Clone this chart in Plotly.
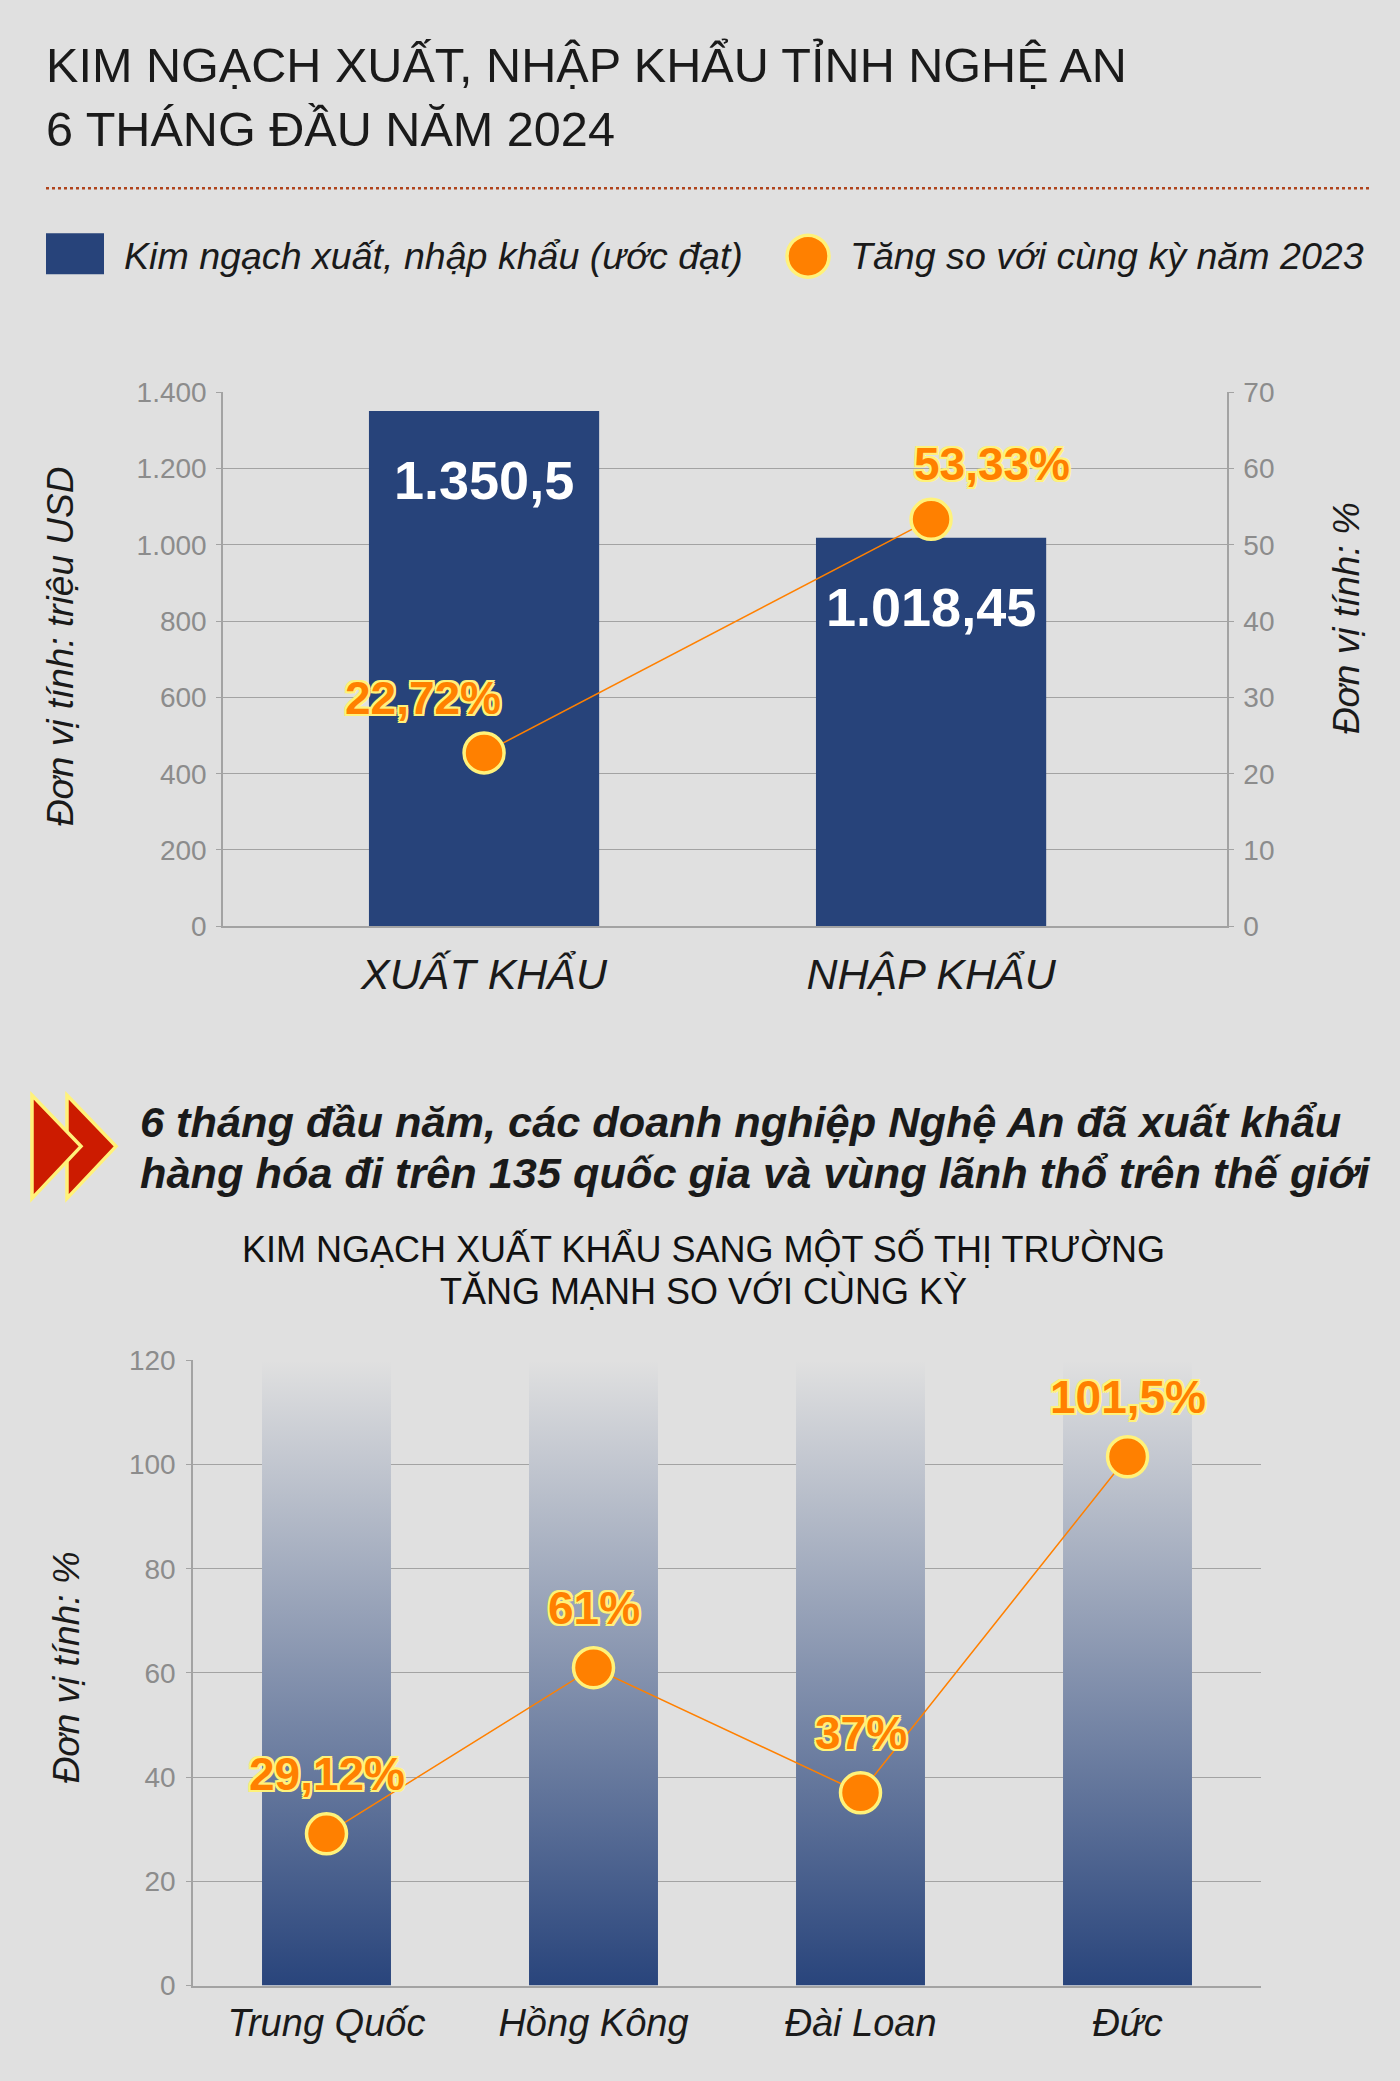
import plotly.graph_objects as go

# chart 1: export / import value (million USD) and growth (%)
trade_categories = ["XUẤT KHẨU", "NHẬP KHẨU"]
trade_values = [1350.5, 1018.45]
trade_growth = [22.72, 53.33]

# chart 2: export growth to some markets (%)
market_names = ["Trung Quốc", "Hồng Kông", "Đài Loan", "Đức"]
market_growth = [29.12, 61, 37, 101.5]
market_bar_top = 120

W, H = 1400, 2081
BG = "#e0e0e0"
NAVY = "#27437a"
ORANGE = "#ff8000"
YELLOW = "#fff27a"
GRID = "#a3a3a3"
TICK_GRAY = "#8c8c8c"
FONT = "Liberation Sans, Arial, sans-serif"

OUTLINE = ", ".join(f"{dx}px {dy}px 0 {YELLOW}" for dx, dy in
                    [(2, 0), (-2, 0), (0, 2), (0, -2), (2, 2), (-2, -2), (2, -2), (-2, 2)])

# the photographed page comes out slightly inset vertically; undo it
Y_OFF, Y_SCALE = 13.9, 0.9849


def vn(v):
    # vietnamese number format: 1.350,5
    s = f"{v:,}"
    return s.replace(",", "#").replace(".", ",").replace("#", ".")


def px(x):
    return x / W


def py(y):
    return 1 - ((y - Y_OFF) / Y_SCALE) / H


def note(x, y, text, size, xanchor="left", angle=0, color="#1a1a1a"):
    return dict(x=px(x), y=py(y), xref="paper", yref="paper", xanchor=xanchor, yanchor="middle",
                text=text, showarrow=False, textangle=angle,
                font=dict(family=FONT, size=size, color=color))


fig = go.Figure()

# ---- chart 1 ----
fig.add_trace(go.Bar(x=trade_categories, y=trade_values, width=0.515,
                     marker=dict(color=NAVY, line=dict(width=0)),
                     xaxis="x", yaxis="y", showlegend=False, hoverinfo="skip"))
fig.add_trace(go.Scatter(x=trade_categories, y=trade_growth, mode="lines+markers",
                         line=dict(color=ORANGE, width=1.5),
                         marker=dict(size=40, color=ORANGE, line=dict(color=YELLOW, width=3.5)),
                         xaxis="x", yaxis="y2", showlegend=False, hoverinfo="skip"))

# ---- chart 2 ----
bw = 0.483
for i, name in enumerate(market_names):
    fig.add_trace(go.Scatter(
        x=[i - bw / 2, i + bw / 2, i + bw / 2, i - bw / 2, i - bw / 2],
        y=[0, 0, market_bar_top, market_bar_top, 0],
        mode="lines", fill="toself", line=dict(width=0),
        fillgradient=dict(type="vertical", start=0, stop=market_bar_top,
                          colorscale=[[0, "#26427a"], [1, BG]]),
        xaxis="x2", yaxis="y3", showlegend=False, hoverinfo="skip"))
fig.add_trace(go.Scatter(x=list(range(len(market_names))), y=market_growth, mode="lines+markers",
                         line=dict(color=ORANGE, width=1.5),
                         marker=dict(size=40, color=ORANGE, line=dict(color=YELLOW, width=3.5)),
                         xaxis="x2", yaxis="y3", showlegend=False, hoverinfo="skip"))

ann = []
label_font = dict(family=FONT, size=46, color=ORANGE, weight="bold", shadow=OUTLINE)

# bar value labels
for c, v in zip(trade_categories, trade_values):
    ann.append(dict(x=c, y=v, xref="x", yref="y", text=vn(v), showarrow=False,
                    yshift=-69, font=dict(family=FONT, size=54, color="white", weight="bold")))
# growth labels chart 1
for c, g, sx in zip(trade_categories, trade_growth, [-61, 61]):
    ann.append(dict(x=c, y=g, xref="x", yref="y2", text=vn(g) + "%", showarrow=False,
                    xshift=sx, yshift=55, font=label_font))
# growth labels chart 2
for i, g in enumerate(market_growth):
    ann.append(dict(x=i, y=g, xref="x2", yref="y3", text=vn(g) + "%", showarrow=False,
                    yshift=60, font=label_font))

# titles and texts
ann += [
    note(44, 64, "KIM NGẠCH XUẤT, NHẬP KHẨU TỈNH NGHỆ AN", 48.6),
    note(44, 128, "6 THÁNG ĐẦU NĂM 2024", 48.6),
    note(122, 255, "<i>Kim ngạch xuất, nhập khẩu (ước đạt)</i>", 37.6),
    note(848, 255, "<i>Tăng so với cùng kỳ năm 2023</i>", 37.6),
    note(60, 645, "<i>Đơn vị tính: triệu USD</i>", 37, "center", -90),
    note(1346, 617, "<i>Đơn vị tính: %</i>", 37, "center", -90),
    note(138, 1121, "<b><i>6 tháng đầu năm, các doanh nghiệp Nghệ An đã xuất khẩu</i></b>", 43.3),
    note(138, 1172, "<b><i>hàng hóa đi trên 135 quốc gia và vùng lãnh thổ trên thế giới</i></b>", 43.3),
    note(703, 1248, "KIM NGẠCH XUẤT KHẨU SANG MỘT SỐ THỊ TRƯỜNG", 36, "center", color="#111111"),
    note(703, 1290, "TĂNG MẠNH SO VỚI CÙNG KỲ", 36, "center", color="#111111"),
    note(66, 1666, "<i>Đơn vị tính: %</i>", 37, "center", -90),
]

shapes = [
    # dotted separator
    dict(type="line", xref="paper", yref="paper", x0=px(46), x1=px(1370), y0=py(187), y1=py(187),
         line=dict(color="#b0441c", width=2.5, dash="dot")),
    # legend swatches
    dict(type="rect", xref="paper", yref="paper", x0=px(46), x1=px(104), y0=py(273), y1=py(232),
         fillcolor=NAVY, line=dict(width=0)),
    dict(type="circle", xref="paper", yref="paper", x0=px(787), x1=px(829), y0=py(276), y1=py(234),
         fillcolor=ORANGE, line=dict(color=YELLOW, width=3.5)),
    # double chevron
    dict(type="path", xref="paper", yref="paper",
         path=f"M {px(67)},{py(1094)} L {px(116)},{py(1145)} L {px(67)},{py(1197)} Z",
         fillcolor="#cc1b00", line=dict(color=YELLOW, width=3.5)),
    dict(type="path", xref="paper", yref="paper",
         path=f"M {px(32)},{py(1094)} L {px(81)},{py(1145)} L {px(32)},{py(1197)} Z",
         fillcolor="#cc1b00", line=dict(color=YELLOW, width=3.5)),
]

axis_common = dict(showgrid=False, zeroline=False, linecolor=GRID, linewidth=1.5, showline=True)
tickfont = dict(family=FONT, size=28, color=TICK_GRAY)

fig.update_layout(
    width=W, height=H, autosize=False,
    margin=dict(l=0, r=0, t=0, b=0),
    paper_bgcolor=BG, plot_bgcolor=BG,
    separators=",.",
    annotations=ann, shapes=shapes,
    xaxis=dict(axis_common, domain=[px(223), px(1227)], range=[-0.584, 1.662], anchor="y",
               ticks="", tickfont=dict(family=FONT, size=43, color="#1a1a1a", style="italic"),
               ticklabelstandoff=9),
    yaxis=dict(axis_common, domain=[py(925), py(391)], range=[0, 1400], dtick=200, tickformat=",d",
               showgrid=True, gridcolor=GRID, gridwidth=1, anchor="x",
               ticks="outside", ticklen=5, tickcolor=GRID, tickfont=tickfont, ticklabelstandoff=4),
    yaxis2=dict(axis_common, overlaying="y", side="right", anchor="x", range=[0, 70], dtick=10,
                ticks="outside", ticklen=5, tickcolor=GRID, tickfont=tickfont, ticklabelstandoff=4),
    xaxis2=dict(axis_common, domain=[px(193), px(1261)], range=[-0.5, 3.5], anchor="y3",
                tickvals=list(range(len(market_names))), ticktext=market_names,
                ticks="", tickfont=dict(family=FONT, size=38, color="#1a1a1a", style="italic"),
                ticklabelstandoff=3),
    yaxis3=dict(axis_common, domain=[py(1984), py(1359)], range=[0, 120], dtick=20, anchor="x2",
                showgrid=True, gridcolor=GRID, gridwidth=1,
                ticks="outside", ticklen=5, tickcolor=GRID, tickfont=tickfont, ticklabelstandoff=5),
)

# pin the figure to the page corner so nothing shifts it
page_fix = (
    "document.documentElement.style.overflow='hidden';"
    "document.body.style.margin='0';"
    "document.body.style.background='" + BG + "';"
    "var gd=document.getElementById('{plot_id}');"
    "gd.style.position='absolute';gd.style.top='0px';gd.style.left='0px';"
)
fig.write_html("out.html", config={"displayModeBar": False}, post_script=page_fix)
